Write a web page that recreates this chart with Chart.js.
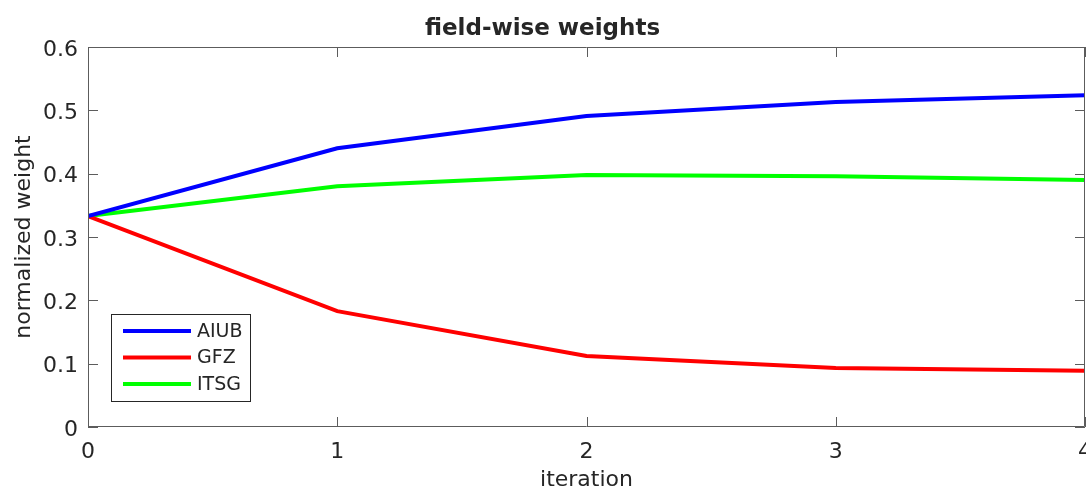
<!DOCTYPE html>
<html lang="en">
<head>
    <meta charset="UTF-8">
    <title>field-wise weights</title>
    <style>
        html, body { margin: 0; padding: 0; background: #fff; }
        #wrap { width: 1086px; height: 489px; }
    </style>
    <script src="https://cdn.jsdelivr.net/npm/chart.js@4.4.1/dist/chart.umd.min.js"></script>
</head>
<body>

<div id="wrap"><canvas id="weightsChart" width="1086" height="489"></canvas></div>

<script>
    // normalized weights per iteration
    const iterations = [0, 1, 2, 3, 4];
    const aiub = [0.333, 0.440, 0.491, 0.513, 0.524];
    const gfz  = [0.333, 0.183, 0.112, 0.093, 0.089];
    const itsg = [0.333, 0.380, 0.398, 0.396, 0.390];

    const seriesNames  = ['AIUB', 'GFZ', 'ITSG'];
    const seriesColors = ['#0000ff', '#ff0000', '#00ff00'];

    const textColor = '#262626';
    const axisColor = '#5c5c5c';
    const font = 'DejaVu Sans';

    const toPoints = (vals) => vals.map((v, i) => ({ x: iterations[i], y: v }));

    // box around the axes with inward tick marks on every side
    const boxAxes = {
        id: 'boxAxes',
        afterDatasetsDraw(chart) {
            const { ctx, chartArea: a, scales: { x, y } } = chart;
            ctx.save();
            ctx.strokeStyle = axisColor;
            ctx.lineWidth = 1;
            ctx.beginPath();
            ctx.rect(a.left + 0.5, a.top + 0.5, a.right - a.left - 1, a.bottom - a.top - 1);
            x.ticks.forEach(t => {
                const px = Math.round(x.getPixelForValue(t.value)) + 0.5;
                ctx.moveTo(px, a.bottom); ctx.lineTo(px, a.bottom - 10);
                ctx.moveTo(px, a.top); ctx.lineTo(px, a.top + 10);
            });
            y.ticks.forEach(t => {
                const py = Math.round(y.getPixelForValue(t.value)) + 0.5;
                ctx.moveTo(a.left, py); ctx.lineTo(a.left + 10, py);
                ctx.moveTo(a.right, py); ctx.lineTo(a.right - 10, py);
            });
            ctx.stroke();
            ctx.restore();
        }
    };

    // legend box in the lower left of the plot
    const boxLegend = {
        id: 'boxLegend',
        afterDraw(chart) {
            const { ctx, chartArea: a } = chart;
            const bx = a.left + 23, by = a.top + 267, bw = 139, bh = 87;
            ctx.save();
            ctx.fillStyle = '#fff';
            ctx.fillRect(bx, by, bw, bh);
            ctx.strokeStyle = '#262626';
            ctx.lineWidth = 1;
            ctx.strokeRect(bx + 0.5, by + 0.5, bw, bh);
            ctx.font = '19px "' + font + '"';
            ctx.textBaseline = 'middle';
            chart.data.datasets.forEach((ds, i) => {
                const ly = by + 17 + i * 26.5;
                ctx.strokeStyle = ds.borderColor;
                ctx.lineWidth = 4;
                ctx.beginPath();
                ctx.moveTo(bx + 12, ly);
                ctx.lineTo(bx + 80, ly);
                ctx.stroke();
                ctx.fillStyle = textColor;
                ctx.fillText(ds.label, bx + 86, ly + 1);
            });
            ctx.restore();
        }
    };

    new Chart(document.getElementById('weightsChart'), {
        type: 'line',
        data: {
            datasets: [aiub, gfz, itsg].map((vals, i) => ({
                label: seriesNames[i],
                data: toPoints(vals),
                borderColor: seriesColors[i],
                backgroundColor: seriesColors[i],
                borderWidth: 4,
                pointRadius: 0,
                tension: 0,
                fill: false
            }))
        },
        options: {
            responsive: false,
            animation: false,
            layout: { padding: { left: 0, right: 1, top: 0, bottom: 0 } },
            plugins: {
                legend: { display: false },
                tooltip: { enabled: false },
                title: {
                    display: true,
                    text: 'field-wise weights',
                    color: textColor,
                    font: { family: font, size: 23, weight: 'bold' },
                    padding: { top: 15, bottom: 4.4 }
                }
            },
            scales: {
                x: {
                    type: 'linear',
                    min: 0,
                    max: 4,
                    ticks: {
                        stepSize: 1,
                        color: textColor,
                        font: { family: font, size: 22 },
                        padding: 12,
                        maxRotation: 0
                    },
                    grid: { display: false, drawTicks: false },
                    border: { display: false },
                    title: {
                        display: true,
                        text: 'iteration',
                        color: textColor,
                        font: { family: font, size: 22, lineHeight: 1 },
                        padding: { top: 2, bottom: -2 }
                    },
                    afterFit(scale) {
                        scale.height = 62;
                        scale.paddingLeft = 0;
                        scale.paddingRight = 0;
                    }
                },
                y: {
                    min: 0,
                    max: 0.6,
                    ticks: {
                        stepSize: 0.1,
                        color: textColor,
                        font: { family: font, size: 22 },
                        padding: 10,
                        labelOffset: 3,
                        callback: v => v === 0 ? '0' : v.toFixed(1)
                    },
                    grid: { display: false, drawTicks: false },
                    border: { display: false },
                    title: {
                        display: true,
                        text: 'normalized weight',
                        color: textColor,
                        font: { family: font, size: 22 },
                        padding: { top: 11, bottom: 6 }
                    },
                    afterFit(scale) {
                        scale.width = 88;
                        scale.paddingTop = 0;
                        scale.paddingBottom = 0;
                    }
                }
            }
        },
        plugins: [boxAxes, boxLegend]
    });
</script>

</body>
</html>
